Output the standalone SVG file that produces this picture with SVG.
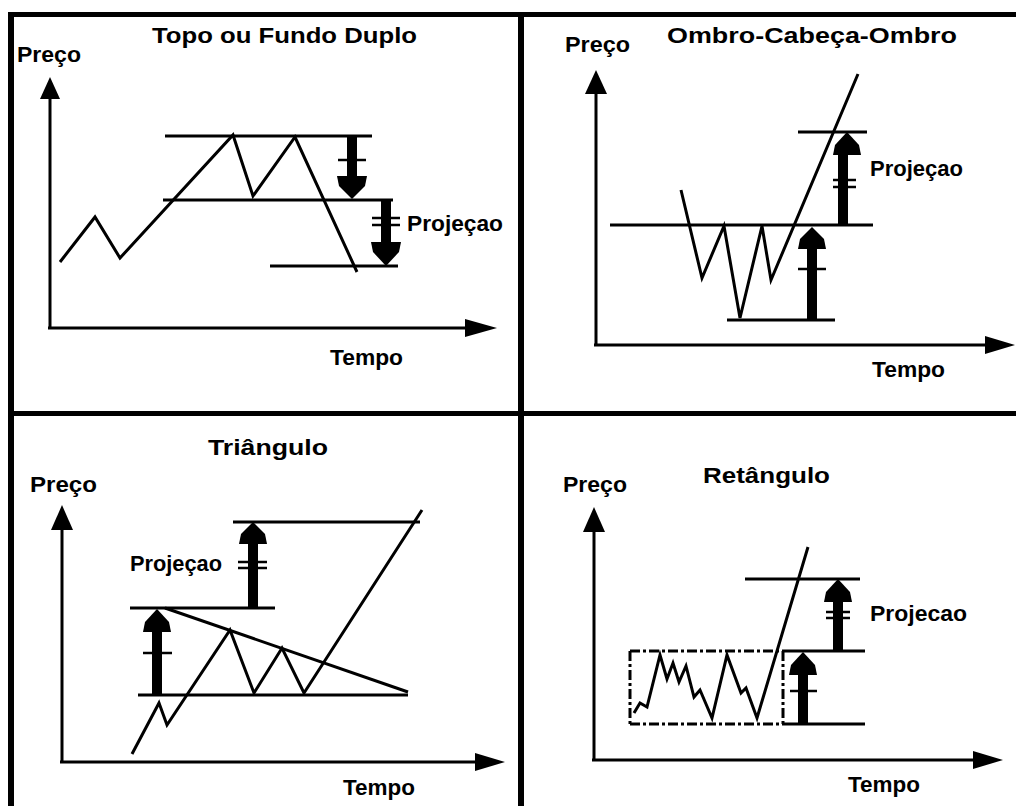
<svg xmlns="http://www.w3.org/2000/svg" width="1016" height="806" viewBox="0 0 1016 806">
<style>
.frame{fill:#000}
.ln{stroke:#000;stroke-width:3;fill:none;stroke-linejoin:miter}
.dd{stroke:#000;stroke-width:3;fill:none;stroke-dasharray:10 3 3 3}
.tk{stroke:#000;stroke-width:2.5}
.ah{fill:#000}
.t{font-family:"Liberation Sans",Arial,sans-serif;font-weight:bold;fill:#000}
.title{font-size:22px}
.lab{font-size:22px}
</style>
<rect width="1016" height="806" fill="#fff"/>
<g id="frame">
<rect class="frame" x="8" y="12" width="1008" height="5"/>
<rect class="frame" x="8" y="12" width="6" height="794"/>
<rect class="frame" x="518" y="12" width="6" height="794"/>
<rect class="frame" x="8" y="411" width="1008" height="5"/>
</g>

<g id="panel-topo">
<text class="t title" x="152" y="43" textLength="265" lengthAdjust="spacingAndGlyphs">Topo ou Fundo Duplo</text>
<text class="t lab" x="17" y="62" textLength="64" lengthAdjust="spacingAndGlyphs">Preço</text>
<text class="t lab" x="330" y="365" textLength="73" lengthAdjust="spacingAndGlyphs">Tempo</text>
<text class="t lab" x="407" y="231" textLength="96" lengthAdjust="spacingAndGlyphs">Projeçao</text>
<line class="ln" x1="50" y1="95" x2="50" y2="329"/>
<polygon class="ah" points="50,77 40,99 60,99"/>
<line class="ln" x1="48" y1="328" x2="470" y2="328"/>
<polygon class="ah" points="497,328 465,319 465,337"/>
<line class="ln" x1="165" y1="136" x2="372" y2="136"/>
<line class="ln" x1="163" y1="200" x2="393" y2="200"/>
<line class="ln" x1="270" y1="266" x2="398" y2="266"/>
<polyline class="ln" points="60,262 95,217 120,258 233,135 253,196 295,137 357,272"/>
<rect class="ah" x="347" y="137" width="10" height="40"/>
<polygon class="ah" points="337,176 367,176 365,186 352,199 339,186"/>
<line class="tk" x1="338" y1="160" x2="366" y2="160"/>
<rect class="ah" x="381" y="200" width="10" height="43"/>
<polygon class="ah" points="371,242 401,242 399,252 386,266 373,252"/>
<line class="tk" x1="372" y1="218" x2="400" y2="218"/>
<line class="tk" x1="372" y1="225" x2="400" y2="225"/>
</g>

<g id="panel-ombro">
<text class="t title" x="667" y="43" textLength="290" lengthAdjust="spacingAndGlyphs">Ombro-Cabeça-Ombro</text>
<text class="t lab" x="565" y="52" textLength="65" lengthAdjust="spacingAndGlyphs">Preço</text>
<text class="t lab" x="872" y="377" textLength="73" lengthAdjust="spacingAndGlyphs">Tempo</text>
<text class="t lab" x="870" y="176" textLength="93" lengthAdjust="spacingAndGlyphs">Projeçao</text>
<line class="ln" x1="596" y1="88" x2="596" y2="346"/>
<polygon class="ah" points="596,70 585,94 607,94"/>
<line class="ln" x1="594" y1="345" x2="990" y2="345"/>
<polygon class="ah" points="1015,345 985,336 985,354"/>
<line class="ln" x1="610" y1="225" x2="873" y2="225"/>
<line class="ln" x1="798" y1="132" x2="867" y2="132"/>
<line class="ln" x1="727" y1="320" x2="835" y2="320"/>
<polyline class="ln" points="681,190 702,278 724,226 740,318 762,226 771,280 858,74"/>
<rect class="ah" x="807" y="248" width="10" height="72"/>
<polygon class="ah" points="798,249 826,249 824,239 812,227 800,239"/>
<line class="tk" x1="798" y1="269" x2="826" y2="269"/>
<rect class="ah" x="838" y="153" width="10" height="72"/>
<polygon class="ah" points="833,155 861,155 859,145 847,132 835,145"/>
<line class="tk" x1="833" y1="180" x2="856" y2="180"/>
<line class="tk" x1="833" y1="187" x2="856" y2="187"/>
</g>

<g id="panel-triangulo">
<text class="t title" x="208" y="455" textLength="120" lengthAdjust="spacingAndGlyphs">Triângulo</text>
<text class="t lab" x="30" y="492" textLength="67" lengthAdjust="spacingAndGlyphs">Preço</text>
<text class="t lab" x="343" y="795" textLength="72" lengthAdjust="spacingAndGlyphs">Tempo</text>
<text class="t lab" x="130" y="571" textLength="92" lengthAdjust="spacingAndGlyphs">Projeçao</text>
<line class="ln" x1="62" y1="525" x2="62" y2="763"/>
<polygon class="ah" points="62,505 51,530 73,530"/>
<line class="ln" x1="60" y1="762" x2="480" y2="762"/>
<polygon class="ah" points="505,762 475,753 475,771"/>
<line class="ln" x1="233" y1="522" x2="420" y2="522"/>
<line class="ln" x1="130" y1="608" x2="275" y2="608"/>
<line class="ln" x1="138" y1="695" x2="408" y2="695"/>
<line class="ln" x1="165" y1="608" x2="408" y2="692"/>
<polyline class="ln" points="132,754 159,703 167,725 230,630 254,693 282,648 304,693 422,510"/>
<rect class="ah" x="152" y="630" width="10" height="65"/>
<polygon class="ah" points="143,632 171,632 169,622 157,609 145,622"/>
<line class="tk" x1="143" y1="653" x2="172" y2="653"/>
<rect class="ah" x="248" y="540" width="10" height="68"/>
<polygon class="ah" points="239,544 267,544 265,534 253,522 241,534"/>
<line class="tk" x1="238" y1="562" x2="267" y2="562"/>
<line class="tk" x1="238" y1="568" x2="267" y2="568"/>
</g>

<g id="panel-retangulo">
<text class="t title" x="703" y="483" textLength="127" lengthAdjust="spacingAndGlyphs">Retângulo</text>
<text class="t lab" x="563" y="492" textLength="64" lengthAdjust="spacingAndGlyphs">Preço</text>
<text class="t lab" x="848" y="792" textLength="72" lengthAdjust="spacingAndGlyphs">Tempo</text>
<text class="t lab" x="870" y="621" textLength="97" lengthAdjust="spacingAndGlyphs">Projecao</text>
<line class="ln" x1="594" y1="527" x2="594" y2="761"/>
<polygon class="ah" points="594,507 583,532 605,532"/>
<line class="ln" x1="592" y1="760" x2="978" y2="760"/>
<polygon class="ah" points="1003,760 973,751 973,769"/>
<line class="ln" x1="745" y1="579" x2="860" y2="579"/>
<line class="dd" x1="630" y1="651" x2="783" y2="651"/>
<line class="ln" x1="783" y1="651" x2="865" y2="651"/>
<line class="dd" x1="630" y1="724" x2="783" y2="724"/>
<line class="ln" x1="783" y1="724" x2="865" y2="724"/>
<line class="dd" x1="630" y1="651" x2="630" y2="724"/>
<line class="dd" x1="783" y1="651" x2="783" y2="724"/>
<polyline class="ln" points="634,713 640,703 647,707 660,655 667,679 673,663 679,682 686,666 694,697 700,690 712,718 727,655 741,693 746,688 757,718 808,547"/>
<rect class="ah" x="798" y="672" width="10" height="52"/>
<polygon class="ah" points="789,675 817,675 815,665 803,652 791,665"/>
<line class="tk" x1="790" y1="691" x2="817" y2="691"/>
<rect class="ah" x="833" y="598" width="10" height="53"/>
<polygon class="ah" points="824,602 852,602 850,592 838,579 826,592"/>
<line class="tk" x1="826" y1="612" x2="850" y2="612"/>
<line class="tk" x1="826" y1="618" x2="850" y2="618"/>
</g>
</svg>
